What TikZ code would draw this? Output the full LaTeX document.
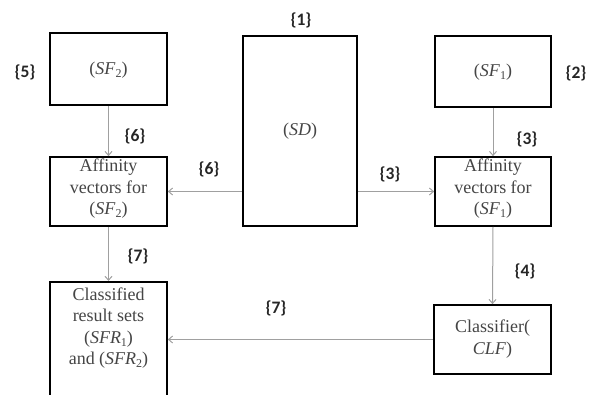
\documentclass[tikz,border=0pt]{standalone}
\usepackage{fontspec}
\setmainfont{Liberation Serif}
\newfontfamily\labfont{Carlito}
\usetikzlibrary{arrows.meta}
\definecolor{boxtext}{HTML}{454545}
\definecolor{arrowgray}{HTML}{A0A0A0}
\newcommand\sbs[1]{\raisebox{-0.35ex}{\fontsize{12}{12}\selectfont #1}}
\newcommand\iv[1]{\textit{#1}}
\tikzset{
  box/.style={draw=black, line width=1.7pt, inner sep=0pt, fill=white},
  boxtxt/.style={text=boxtext, align=center, font=\fontsize{18}{21.5}\selectfont, inner sep=0pt},
  lab/.style={font=\labfont\bfseries\fontsize{17.5}{17.5}\selectfont, text=black!85, inner sep=0pt},
  conn/.style={draw=arrowgray, line width=1pt, -{Straight Barb[length=4pt,width=7pt]}}
}
\begin{document}
\begin{tikzpicture}[x=1pt,y=-1pt]
\useasboundingbox (0,0) rectangle (595,395);
\clip (0,0) rectangle (595,395);
% boxes
\node[box, minimum width=117pt, minimum height=72pt] (sf2) at (108.5,69) {};
\node[boxtxt] at (108.5,70) {(\iv{SF}\sbs{2})};
\node[box, minimum width=117pt, minimum height=69pt] (affl) at (108.5,191.5) {};
\node[boxtxt] at (108.5,189) {Affinity\\vectors for\\(\iv{SF}\sbs{2})};
\node[box, minimum width=117pt, minimum height=124pt, anchor=north] (cls) at (108.5,281) {};
\node[boxtxt] at (108.5,328) {Classified\\result sets\\(\iv{SFR}\sbs{1})\\and (\iv{SFR}\sbs{2})};
\node[box, minimum width=114pt, minimum height=190pt] (sd) at (300,131) {};
\node[boxtxt] at (300,131) {(\iv{SD})};
\node[box, minimum width=116pt, minimum height=71pt] (sf1) at (493,71.5) {};
\node[boxtxt] at (493,72) {(\iv{SF}\sbs{1})};
\node[box, minimum width=116pt, minimum height=69pt] (affr) at (493,191.5) {};
\node[boxtxt] at (493,189) {Affinity\\vectors for\\(\iv{SF}\sbs{1})};
\node[box, minimum width=117pt, minimum height=69pt] (clf) at (492.5,339.5) {};
\node[boxtxt] at (492.5,339) {Classifier(\\\iv{CLF})};
% connectors
\draw[conn] (sf2.south) -- (affl.north);
\draw[conn] (affl.east -| sd.west) -- (affl.east);
\draw[conn] (affr.west -| sd.east) -- (affr.west);
\draw[conn] (sf1.south) -- (affr.north);
\draw[conn] (affl.south) -- (cls.north);
\draw[conn] (affr.south) -- (clf.north);
\draw[conn] (clf.west) -- (clf.west -| cls.east);
% labels
\node[lab] (l1) at (301,20) {\{1\}};
\node[lab] (l5) at (25,72) {\{5\}};
\node[lab] (l2) at (576,73) {\{2\}};
\node[lab] (l6a) at (135,136) {\{6\}};
\node[lab] (l6b) at (209,169) {\{6\}};
\node[lab] (l3a) at (390,174) {\{3\}};
\node[lab] (l3b) at (527,139) {\{3\}};
\node[lab] (l4) at (525,271) {\{4\}};
\node[lab] (l7a) at (138,256) {\{7\}};
\node[lab] (l7b) at (276,308) {\{7\}};
\end{tikzpicture}
\end{document}
